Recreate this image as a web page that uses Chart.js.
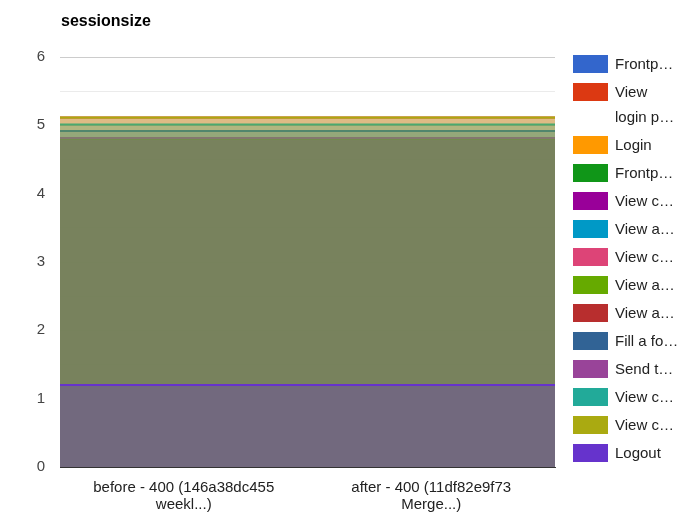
<!DOCTYPE html>
<html>
<head>
<meta charset="utf-8">
<script src="https://cdn.jsdelivr.net/npm/chart.js@4.4.1/dist/chart.umd.min.js"></script>
<style>
  body { margin: 0; background: #fff; font-family: Arial, "Liberation Sans", sans-serif; }
  #wrap { position: relative; width: 683px; height: 523px; }
  #legend { position: absolute; left: 573px; top: 0; }
  .item { position: absolute; left: 0; white-space: nowrap; }
  .sw { position: absolute; left: 0; width: 35px; height: 18px; }
  .lbl { position: absolute; left: 42px; font-size: 15px; line-height: 25px; color: #222; }
</style>
</head>
<body>
<div id="wrap">
  <canvas id="chart" width="683" height="523"></canvas>
  <div id="legend"></div>
</div>
<script>
const categories = ["before - 400 (146a38dc455 weekl...)", "after - 400 (11df82e9f73 Merge...)"];
const tickLabels = [["before - 400 (146a38dc455", "weekl...)"], ["after - 400 (11df82e9f73", "Merge...)"]];

const seriesNames = ["Frontp…", "View login p…", "Login", "Frontp…", "View c…", "View a…", "View c…",
  "View a…", "View a…", "Fill a fo…", "Send t…", "View c…", "View c…", "Logout"];
const seriesColors = ["#3366cc", "#dc3912", "#ff9900", "#109618", "#990099", "#0099c6", "#dd4477",
  "#66aa00", "#b82e2e", "#316395", "#994499", "#22aa99", "#aaaa11", "#6633cc"];

// values per series, one per category
const frontp1 = [4.8, 4.8];
const viewLogin = [5.115, 5.115];
const login = [4.8, 4.8];
const frontp2 = [4.8, 4.8];
const viewC1 = [4.8, 4.8];
const viewA1 = [4.8, 4.8];
const viewC2 = [4.8, 4.8];
const viewA2 = [4.8, 4.8];
const viewA3 = [4.815, 4.815];
const fillForm = [4.917, 4.917];
const sendT = [4.815, 4.815];
const viewC3 = [5.012, 5.012];
const viewC4 = [5.115, 5.115];
const logout = [1.2, 1.2];

const seriesValues = [frontp1, viewLogin, login, frontp2, viewC1, viewA1, viewC2,
  viewA2, viewA3, fillForm, sendT, viewC3, viewC4, logout];

const yTicks = [0, 1, 2, 3, 4, 5, 6];

function alpha(hex, a) {
  const n = parseInt(hex.slice(1), 16);
  return `rgba(${n >> 16},${(n >> 8) & 255},${n & 255},${a})`;
}

const datasets = seriesNames.map((name, i) => ({
  label: name,
  data: seriesValues[i],
  borderColor: seriesColors[i],
  backgroundColor: alpha(seriesColors[i], 0.3),
  borderWidth: 2,
  pointRadius: 0,
  fill: "origin",
  tension: 0,
  order: seriesNames.length - i, // first series drawn first, Logout last
}));

const titlePlugin = {
  id: "titleText",
  afterDraw(chart) {
    const ctx = chart.ctx;
    ctx.save();
    ctx.font = "bold 16px Arial, 'Liberation Sans', sans-serif";
    ctx.fillStyle = "#000";
    ctx.fillText("sessionsize", chart.chartArea.left + 1, 26);
    ctx.restore();
  },
};

const chart = new Chart(document.getElementById("chart"), {
  type: "line",
  data: { labels: categories, datasets: datasets },
  options: {
    responsive: false,
    animation: false,
    layout: { padding: { top: 57, right: 128, left: 0, bottom: 0 } },
    plugins: {
      legend: { display: false },
      tooltip: { enabled: false },
      title: { display: false },
    },
    scales: {
      x: { display: false, offset: false },
      x2: {
        type: "category",
        labels: tickLabels,
        position: "bottom",
        offset: true,
        z: 1,
        grid: { display: false, drawTicks: false },
        border: { display: true, color: "#333", width: 1 },
        ticks: {
          color: "#222",
          font: { size: 15, family: "Arial, 'Liberation Sans', sans-serif", lineHeight: 1.15 },
          padding: 12,
          maxRotation: 0,
          autoSkip: false,
        },
        afterFit(scale) { scale.height = 56; },
      },
      y: {
        min: 0,
        max: 6,
        border: { display: false },
        grid: {
          drawTicks: false,
          color: (c) => (c.tick.value % 1 === 0 ? "#cccccc" : "#ebebeb"),
        },
        ticks: {
          stepSize: 0.5,
          color: "#444",
          padding: 15,
          font: { size: 15, family: "Arial, 'Liberation Sans', sans-serif" },
          callback: (v) => (yTicks.includes(v) ? String(v) : ""),
        },
        afterFit(scale) { scale.width = 60; },
      },
    },
  },
  plugins: [titlePlugin],
});

// legend built from the series lists
const legend = document.getElementById("legend");
let y = 55;
seriesNames.forEach((name, i) => {
  const item = document.createElement("div");
  item.className = "item";
  item.style.top = y + "px";
  const sw = document.createElement("div");
  sw.className = "sw";
  sw.style.background = seriesColors[i];
  const lbl = document.createElement("div");
  lbl.className = "lbl";
  lbl.style.top = "-4px";
  if (name === "View login p…") {
    lbl.innerHTML = "View<br>login p…";
    y += 25;
  } else {
    lbl.textContent = name;
  }
  item.appendChild(sw);
  item.appendChild(lbl);
  legend.appendChild(item);
  y += 28;
});
</script>
</body>
</html>
